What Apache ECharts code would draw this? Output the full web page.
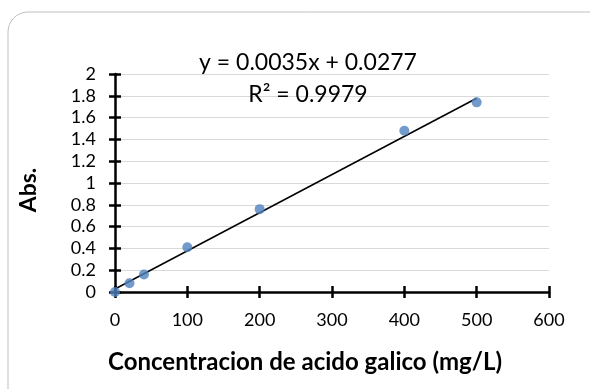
<!DOCTYPE html>
<html><head><meta charset="utf-8">
<script src="https://cdn.jsdelivr.net/npm/echarts@6/dist/echarts.min.js"></script>
<style>html,body{margin:0;padding:0;background:#fff;}#c{width:590px;height:389px;}</style>
</head><body><div id="c"></div>
<script>
const concentrations = [0, 20, 40, 100, 200, 400, 500];
const absorbances = [0.0, 0.08, 0.16, 0.41, 0.76, 1.48, 1.74];
const trendSlope = 0.0035;
const trendIntercept = 0.0277;
const trendRange = [0, 500];
const equationText = 'y = 0.0035x + 0.0277';
const r2Text = 'R\u00B2 = 0.9979';
const xTitle = 'Concentracion de acido galico (mg/L)';
const yTitle = 'Abs.';

const FONT = 'Lato';
const chart = echarts.init(document.getElementById('c'));
const pts = concentrations.map((x, i) => [x, absorbances[i]]);
const trend = trendRange.map(x => [x, trendSlope * x + trendIntercept]);

const gridDef = {left: 115, right: 41, top: 74, bottom: 97};
const axisLineStyle = {color: '#000', width: 2.5};

chart.setOption({
  animation: false,
  graphic: [
    {type: 'rect', shape: {x: 8, y: 12, width: 620, height: 420, r: 20}, style: {fill: 'none', stroke: '#bfbfbf', lineWidth: 1}, silent: true},
    {type: 'text', x: 308, y: 63, style: {text: equationText, font: '23px ' + FONT, fill: '#000', align: 'center', verticalAlign: 'middle'}, z: 10},
    {type: 'text', x: 308, y: 95, style: {text: r2Text, font: '23px ' + FONT, fill: '#000', align: 'center', verticalAlign: 'middle'}, z: 10},
    {type: 'text', x: 305, y: 362, style: {text: xTitle, font: 'bold 24px ' + FONT, fill: '#000', align: 'center', verticalAlign: 'middle'}, z: 10},
    {type: 'text', x: 29, y: 190, rotation: Math.PI / 2, style: {text: yTitle, font: 'bold 23px ' + FONT, fill: '#000', align: 'center', verticalAlign: 'middle'}, z: 10}
  ],
  grid: gridDef,
  xAxis: [
    {type: 'value', min: 0, max: 600, interval: 100,
     axisLine: {show: true, lineStyle: axisLineStyle},
     axisTick: {show: true, inside: false, length: 6, lineStyle: {color: '#000', width: 2.5}},
     axisLabel: {fontFamily: FONT, fontSize: 18, color: '#000', margin: 19},
     splitLine: {show: false}},
    {type: 'value', min: 0, max: 600, interval: 100, position: 'bottom', offset: 0,
     axisLine: {show: false},
     axisTick: {show: true, inside: true, length: 6, lineStyle: {color: '#000', width: 2.5}},
     axisLabel: {show: false}, splitLine: {show: false}}
  ],
  yAxis: [
    {type: 'value', min: 0, max: 2, interval: 0.2,
     axisLine: {show: true, lineStyle: axisLineStyle},
     axisTick: {show: true, inside: false, length: 6, lineStyle: {color: '#000', width: 2.5}},
     axisLabel: {fontFamily: FONT, fontSize: 18, color: '#000', margin: 19,
       formatter: v => String(Math.round(v * 10) / 10)},
     splitLine: {show: true, lineStyle: {color: '#d9d9d9', width: 1}}},
    {type: 'value', min: 0, max: 2, interval: 0.2, position: 'left', offset: 0,
     axisLine: {show: false},
     axisTick: {show: true, inside: true, length: 6, lineStyle: {color: '#000', width: 2.5}},
     axisLabel: {show: false}, splitLine: {show: false}}
  ],
  series: [
    {type: 'line', data: trend, showSymbol: false, symbol: 'none',
     lineStyle: {color: '#000', width: 1.5}, z: 3, silent: true},
    {type: 'scatter', data: pts, symbolSize: 10,
     itemStyle: {color: '#4f81bd'}, z: 4}
  ]
});
</script></body></html>
